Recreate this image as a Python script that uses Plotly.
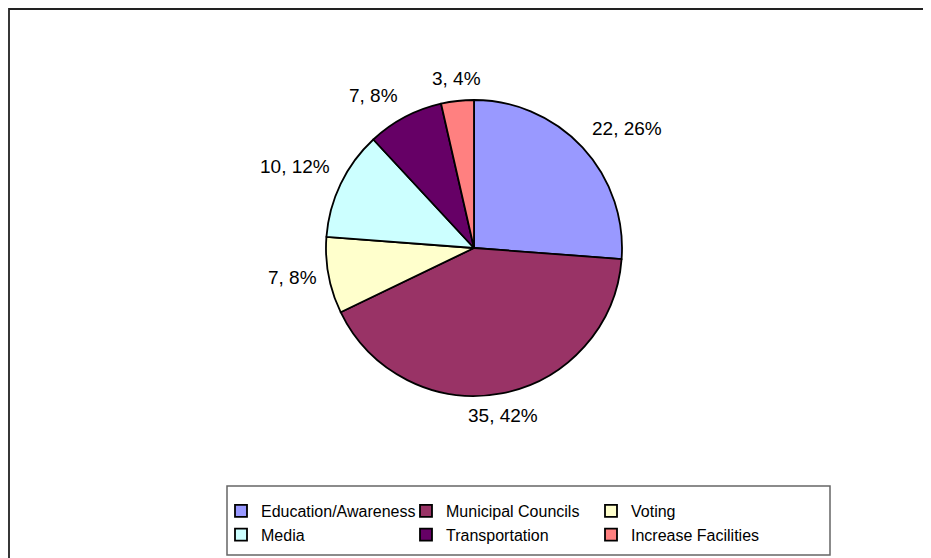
import math
import plotly.graph_objects as go

# data
categories = ["Education/Awareness", "Municipal Councils", "Voting",
              "Media", "Transportation", "Increase Facilities"]
counts = [22, 35, 7, 10, 7, 3]
colors = ["#9999FF", "#993366", "#FFFFCC", "#CCFFFF", "#660066", "#FF8080"]

W, H = 931, 558
ML, MR = 150, 150
PW = W - ML - MR
PAGE = 8  # body margin of the html page


def px_x(x):
    return (x - PAGE - ML) / PW


def px_y(y):
    return (H - (y - PAGE)) / H


cx, cy, r = 474, 248, 148
label_gap = 10

fig = go.Figure(go.Pie(
    labels=categories,
    values=counts,
    marker=dict(colors=colors, line=dict(color="black", width=1.8)),
    sort=False,
    direction="clockwise",
    rotation=0,
    textinfo="none",
    hoverinfo="skip",
    domain=dict(x=[px_x(cx - r), px_x(cx + r)], y=[px_y(cy + r), px_y(cy - r)]),
))

# Excel style "value, percent" labels just off the rim of each slice
total = sum(counts)
cum = 0
for v in counts:
    theta = math.radians((cum + v / 2) / total * 360)  # clockwise from 12 o'clock
    cum += v
    s, c = math.sin(theta), math.cos(theta)
    xa = "left" if s > 0.3 else ("right" if s < -0.3 else "center")
    ya = "bottom" if c > 0.3 else ("top" if c < -0.3 else "middle")
    rr = r + label_gap
    fig.add_annotation(
        x=px_x(cx + rr * s), y=px_y(cy - rr * c), xref="paper", yref="paper",
        text=f"{v}, {round(100 * v / total)}%", showarrow=False,
        xanchor=xa, yanchor=ya,
        font=dict(family="Arial", size=19, color="black"),
    )

# outer chart frame (runs off the right/bottom edges like the original)
fig.add_shape(type="rect", xref="paper", yref="paper",
              x0=px_x(9), x1=px_x(W + 30), y0=px_y(H + 30), y1=px_y(9),
              line=dict(color="#222222", width=1.8), layer="below")
# legend frame
fig.add_shape(type="rect", xref="paper", yref="paper",
              x0=px_x(227), x1=px_x(830), y0=px_y(555), y1=px_y(486),
              line=dict(color="#666666", width=1.5), layer="below")

fig.update_layout(
    width=W, height=H,
    margin=dict(l=ML, r=MR, t=0, b=0),
    paper_bgcolor="white",
    plot_bgcolor="white",
    font=dict(family="Arial", size=16, color="black"),
    showlegend=True,
    legend=dict(
        orientation="h",
        x=px_x(221), xanchor="left",
        y=px_y(494), yanchor="top",
        entrywidth=140, entrywidthmode="pixels",
        bgcolor="rgba(0,0,0,0)", borderwidth=0,
        font=dict(family="Arial", size=16, color="black"),
        traceorder="normal",
    ),
)

fig.write_html("out.html")
